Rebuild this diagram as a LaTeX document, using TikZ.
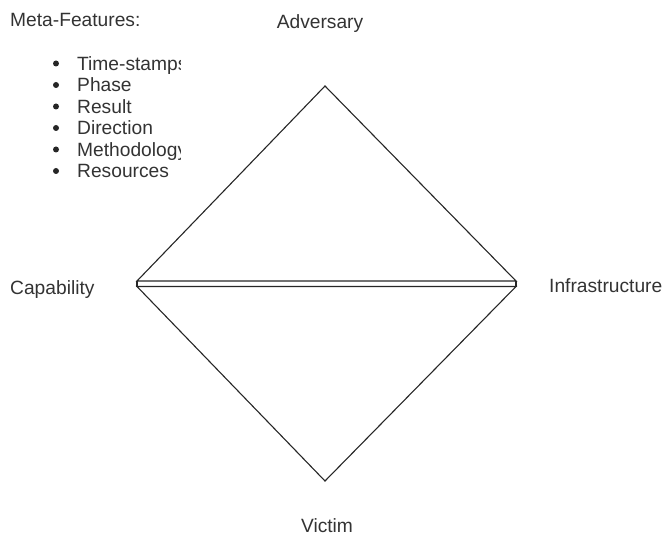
\documentclass[tikz,border=0pt]{standalone}
\usepackage{fontspec}
\setmainfont{Liberation Sans}
\tikzset{
  edge/.style={draw=black!85, line width=1.1pt, line join=miter},
  lbl/.style={inner sep=0pt, text=black!80, font=\fontsize{19.2}{22}\selectfont},
}

\begin{document}
\begin{tikzpicture}[x=1pt, y=-1pt]
	\useasboundingbox (0,0) rectangle (663,537);
	% corners of the two triangles
	\coordinate (top) at (325,86);
	\coordinate (ul) at (137,281);
	\coordinate (ur) at (516,281);
	\coordinate (ll) at (137,286.5);
	\coordinate (lr) at (516,286.5);
	\coordinate (bot) at (325,481);
	\draw[edge] (top)--(ur)--(ul)--cycle;
	\draw[edge] (ll)--(lr)--(bot)--cycle;
	\draw[edge] (ul)--(ll);
	\draw[edge] (ur)--(lr);
	% vertex labels
	\node[lbl, anchor=base] (adv) at (320,29) {Adversary};
	\node[lbl, anchor=base west] (cap) at (10,294) {Capability};
	\node[lbl, anchor=base west] (infra) at (549,292) {Infrastructure};
	\node[lbl, anchor=base] (vic) at (327,532) {Victim};
	% meta features
	\node[lbl, anchor=base west] (meta) at (10,27) {Meta-Features:};
	\begin{scope}
		\clip (0,40) rectangle (180,200);
		\foreach \txt [count=\i] in {Time-stamps,Phase,Result,Direction,Methodology,Resources}{
			\node[lbl, anchor=base west] (feat\i) at (77,{70.5+21.5*(\i-1)}) {\txt};
			\fill[black!85] (56,{63.5+21.5*(\i-1)}) circle (3);
		}
	\end{scope}
\end{tikzpicture}
\end{document}
